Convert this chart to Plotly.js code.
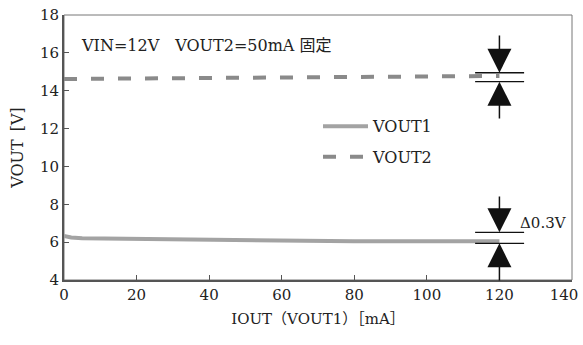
<!DOCTYPE html>
<html><head><meta charset="utf-8">
<script src="https://cdn.plot.ly/plotly-3.0.1.min.js"></script>
<style>html,body{margin:0;padding:0;background:#fff}</style>
</head><body><div id="chart" style="width:583px;height:345px"></div>
<script>
// Data
const seriesNames = ['VOUT1', 'VOUT2'];
const vout1X = [0, 2, 5, 10, 20, 30, 40, 50, 60, 80, 100, 120];
const vout1Y = [6.32, 6.25, 6.2, 6.19, 6.16, 6.12, 6.09, 6.06, 6.05, 6.05, 6.05, 6.05];
const vout2X = [0, 20, 40, 60, 80, 100, 120];
const vout2Y = [14.62, 14.64, 14.66, 14.69, 14.72, 14.75, 14.78];
const xTicks = [0, 20, 40, 60, 80, 100, 120];
const xLastTick = [140];
const yTicks = [4, 6, 8, 10, 12, 14, 16, 18];
const conditionText = 'VIN=12V\u2003VOUT2=50mA 固定';
const deltaText = 'Δ0.3V';
const markX = 120;
const markLevels = [14.95, 14.48, 6.52, 5.94];
const markTails = [17.0, 12.45, 8.49, 3.9];
const markSpan = [113.3, 126.8];

const serif = 'DejaVu Serif, Noto Sans CJK JP, serif';
const txt = '#222';

const traces = [
  {x: vout1X, y: vout1Y, name: seriesNames[0], mode: 'lines',
   line: {color: '#a3a3a3', width: 4}, legend: 'legend'},
  {x: vout2X, y: vout2Y, name: seriesNames[1], mode: 'lines', xaxis: 'x2',
   line: {color: '#8a8a8a', width: 4, dash: '13px,14px'}, legend: 'legend2'}
];

const shapes = markLevels.map(v => ({type: 'line', xref: 'x', yref: 'y',
  x0: markSpan[0], x1: markSpan[1], y0: v, y1: v, line: {color: '#111', width: 1.3}}));
shapes.push({type: 'rect', xref: 'paper', yref: 'paper', x0: 0, x1: 1, y0: 0, y1: 1,
  line: {color: '#777', width: 1}, layer: 'below'});

const annotations = markLevels.map((v, i) => ({x: markX, y: v, ax: markX, ay: markTails[i],
  xref: 'x', yref: 'y', axref: 'x', ayref: 'y', text: '', showarrow: true,
  arrowhead: 2, arrowsize: 3.2, arrowwidth: 1.5, arrowcolor: '#111', standoff: 0}));
annotations.push({xref: 'paper', yref: 'paper', x: 0.03, y: 0.885, xanchor: 'left', yanchor: 'middle',
  text: conditionText, showarrow: false, font: {family: serif, size: 16, color: txt}});
annotations.push({xref: 'paper', yref: 'paper', x: 0.893, y: 0.215, xanchor: 'left', yanchor: 'middle',
  text: deltaText, showarrow: false, font: {family: serif, size: 15, color: txt}});

const legendBase = {bgcolor: 'rgba(0,0,0,0)', font: {family: serif, size: 16, color: txt},
  itemwidth: 45, xanchor: 'left', yanchor: 'middle', borderwidth: 0};

const tickFont = {family: serif, size: 15, color: txt};

const layout = {
  width: 583, height: 345,
  margin: {l: 64, r: 11, t: 15, b: 65},
  paper_bgcolor: '#fff', plot_bgcolor: '#fff',
  font: {family: serif, size: 15, color: txt},
  showlegend: true,
  legend: Object.assign({}, legendBase, {x: 0.5, y: 0.58}),
  legend2: Object.assign({}, legendBase, {x: 0.5, y: 0.465}),
  xaxis: {range: [0, 140], tickvals: xTicks, ticks: 'inside', ticklen: 5, tickcolor: '#555',
    showgrid: false, zeroline: false, showline: true, linecolor: '#555', linewidth: 2,
    tickfont: tickFont,
    title: {text: 'IOUT（VOUT1）［mA］', font: {family: serif, size: 15, color: txt}, standoff: 10}},
  xaxis2: {overlaying: 'x', anchor: 'y', side: 'bottom', range: [0, 140], tickvals: xLastTick,
    ticks: 'inside', ticklen: 5, tickcolor: '#555', showgrid: false, zeroline: false,
    showline: true, linecolor: '#555', linewidth: 2, ticklabelshift: -8,
    ticklabeloverflow: 'allow', tickfont: tickFont},
  yaxis: {range: [4, 18], tickvals: yTicks, ticks: 'inside', ticklen: 5, tickcolor: '#555',
    showgrid: false, zeroline: false, showline: true, linecolor: '#555', linewidth: 2,
    tickfont: tickFont,
    title: {text: 'VOUT\u2002[V]', font: {family: serif, size: 16, color: txt}, standoff: 12}},
  shapes: shapes,
  annotations: annotations
};

Plotly.newPlot('chart', traces, layout, {displayModeBar: false, staticPlot: true});
</script></body></html>
